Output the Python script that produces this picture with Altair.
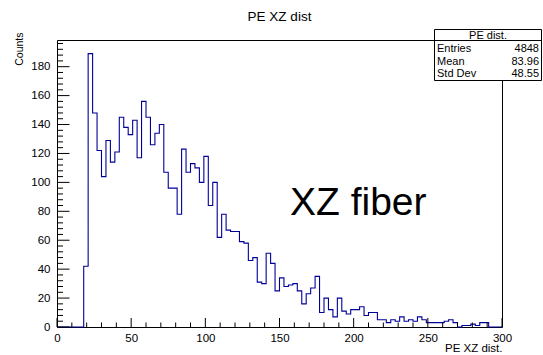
import altair as alt
import pandas as pd

# Histogram of PE XZ distance: 100 bins of width 3 covering [0, 300)
bin_width = 3
counts = [
    0, 0, 0, 0, 0, 0,
    42, 189, 148, 122, 104, 129, 114, 121, 145, 138,
    133, 143, 117, 156, 145, 126, 134, 140, 107, 96,
    96, 78, 123, 107, 113, 110, 100, 118, 84, 100,
    62, 78, 67, 66, 66, 59, 58, 46, 48, 31,
    30, 51, 44, 25, 34, 28, 29, 30, 25, 16,
    23, 27, 35, 10, 20, 12, 7, 20, 11, 9,
    12, 12, 14, 8, 10, 10, 5, 5, 3, 5,
    4, 7, 4, 5, 4, 7, 5, 3, 3, 3,
    3, 4, 5, 3, 0, 1, 1, 2, 1, 3,
    3, 0, 0, 0,
]

# Statistics box
stats_title = "PE dist."
stat_names = ["Entries", "Mean", "Std Dev"]
stat_values = ["4848", "83.96", "48.55"]

# Axis ticks
x_range = [0, 300]
y_max = 198.45
x_major = [0, 50, 100, 150, 200, 250, 300]
x_minor = [v for v in range(10, 300, 10) if v % 50 != 0]
y_major = [0, 20, 40, 60, 80, 100, 120, 140, 160, 180]
y_minor = [v for v in range(4, 198, 4) if v % 20 != 0]

W, H = 445, 287
FONT = "Liberation Sans"
LINE = "#000099"

edges = [x_range[0] + i * bin_width for i in range(len(counts))] + [x_range[1]]
hist_df = pd.DataFrame({"edge": edges, "count": counts + [counts[-1]]})

xs = alt.Scale(domain=x_range, nice=False, zero=False)
ys = alt.Scale(domain=[0, y_max], nice=False, zero=True)

hist = alt.Chart(hist_df).mark_line(
    interpolate="step-after", color=LINE, strokeWidth=1.1
).encode(
    x=alt.X("edge:Q", scale=xs,
            axis=alt.Axis(values=x_major, title="PE XZ dist.", ticks=False,
                          tickSize=0, labelPadding=5, labelFontSize=11.5,
                          labelColor="black", domain=False, grid=False,
                          titleFontSize=11.5, titleFontWeight="normal",
                          titleColor="black", titleAnchor="end",
                          titleAlign="right", titleBaseline="alphabetic",
                          titleX=W, titleY=24, labelFlush=False)),
    y=alt.Y("count:Q", scale=ys,
            axis=alt.Axis(values=y_major, title="Counts", ticks=False,
                          tickSize=0, labelPadding=7, labelFontSize=11.5,
                          labelColor="black", domain=False, grid=False,
                          titleFontSize=10.5, titleFontWeight="normal",
                          titleColor="black", titleAngle=270,
                          titleAlign="right", titleBaseline="middle",
                          titleX=-38, titleY=-8, labelFlush=False)),
)

def xticks(vals, length):
    return alt.Chart(pd.DataFrame({"t": vals})).mark_rule(
        color="black", strokeWidth=1
    ).encode(
        x=alt.X("t:Q", scale=xs, axis=None),
        y=alt.value(H), y2=alt.value(H - length),
    )

def yticks(vals, length):
    return alt.Chart(pd.DataFrame({"t": vals})).mark_rule(
        color="black", strokeWidth=1
    ).encode(
        y=alt.Y("t:Q", scale=ys, axis=None),
        x=alt.value(0), x2=alt.value(length),
    )

one = pd.DataFrame({"k": [0]})

def label(text, x, y, size, align="left"):
    return alt.Chart(one).mark_text(
        text=text, font=FONT, fontSize=size, align=align,
        baseline="alphabetic", color="black"
    ).encode(x=alt.value(x), y=alt.value(y))

title = label("PE XZ dist", W / 2, -19, 13.5, "center")
fiber = label("XZ fiber", 233, 175, 39)

box = alt.Chart(one).mark_rect(
    fill="white", stroke="black", strokeWidth=1
).encode(x=alt.value(377.5), x2=alt.value(484.5),
         y=alt.value(-10.5), y2=alt.value(40.5))
sep = alt.Chart(one).mark_rule(color="black", strokeWidth=1).encode(
    x=alt.value(377.5), x2=alt.value(484.5), y=alt.value(0.5)
)
stat_layers = [label(stats_title, 431, -1.5, 11, "center")]
row_base = [12, 24.7, 37.4]
for name, val, yb in zip(stat_names, stat_values, row_base):
    stat_layers.append(label(name, 380, yb, 11, "left"))
    stat_layers.append(label(val, 482, yb, 11, "right"))

chart = alt.layer(
    hist,
    xticks(x_major, 9), xticks(x_minor, 4.5),
    yticks(y_major, 12.5), yticks(y_minor, 6),
    fiber, box, sep, *stat_layers, title,
).resolve_axis(
    x="independent", y="independent"
).properties(
    width=W, height=H,
    autosize=alt.AutoSizeParams(type="none"),
    padding={"left": 57, "top": 40, "right": 41, "bottom": 28},
).configure(
    font=FONT,
).configure_view(
    stroke="black", strokeWidth=1
).configure_axis(
    labelFont=FONT, titleFont=FONT
)

chart.save("out.html", embed_options={"renderer": "svg", "actions": False})
